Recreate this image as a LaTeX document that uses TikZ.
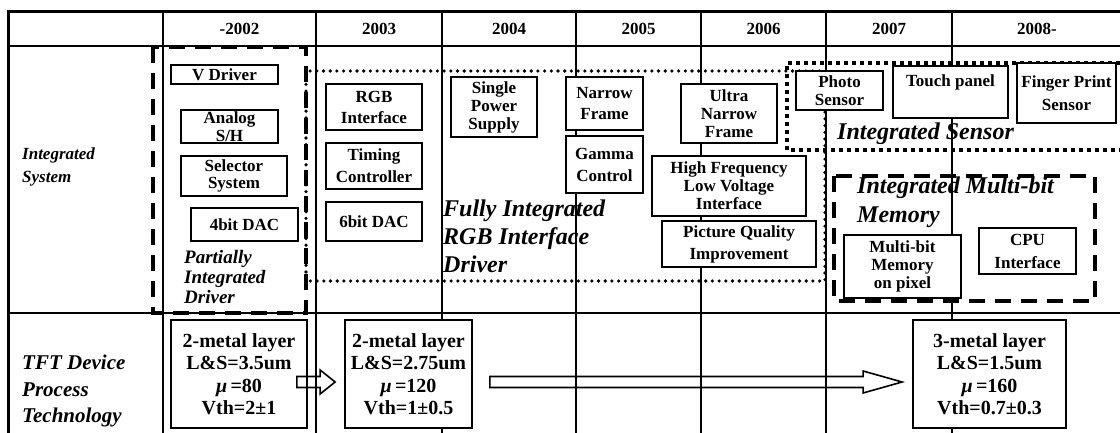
\documentclass[tikz,border=0pt]{standalone}
\usepackage{fontspec}
\setmainfont{Liberation Serif}
\usetikzlibrary{calc}

\begin{document}
\begin{tikzpicture}[x=1pt, y=-1pt,
  grid/.style={line width=1.3pt},
  head/.style={inner sep=0pt, font=\fontsize{17}{20}\selectfont\bfseries},
  item/.style={draw, line width=1.8pt, fill=white, align=center, inner sep=0pt,
    font=\fontsize{17}{#1}\selectfont\bfseries},
  item/.default=18,
  proc/.style={draw, line width=1.8pt, fill=white, align=center, inner sep=0pt,
    minimum height=108pt, font=\fontsize{20}{22.5}\selectfont\bfseries},
  tag/.style 2 args={align=left, inner sep=0pt, anchor=west,
    font=\fontsize{#1}{#2}\selectfont\bfseries\itshape},
  partbox/.style={line width=4.5pt, dash pattern=on 16pt off 10pt},
  fullbox/.style={line width=3.6pt, dash pattern=on 0pt off 6.7pt, line cap=round},
  sensbox/.style={line width=4pt, dash pattern=on 4pt off 4pt},
  blockarr/.style={line width=1.6pt}
]
\useasboundingbox (0,0) rectangle (1120,433);

% Table frame
\draw[line width=3pt] (8,433) -- (8,12) -- (1120,12);
\draw[grid] (8,46) -- (1120,46);
\draw[line width=2.2pt] (8,313) -- (1120,313);
\foreach \x in {163,316,442,576,701,826,952}
  \draw[grid] (\x,12) -- (\x,433);

% Years
\node[head] (y2002) at (239.5,29) {-2002};
\node[head] (y2003) at (379,29) {2003};
\node[head] (y2004) at (509,29) {2004};
\node[head] (y2005) at (638.5,29) {2005};
\node[head] (y2006) at (763.5,29) {2006};
\node[head] (y2007) at (889,29) {2007};
\node[head] (y2008) at (1037,29) {2008-};

% Groups
\draw[partbox] (153,47) rectangle (306,313); % partially integrated
\draw[fullbox] (306,71) rectangle (825,281); % fully integrated
\draw[sensbox] (1120,63) -- (787,63) -- (787,150) -- (1120,150); % sensor
\draw[partbox] (834,176) rectangle (1095,301); % multi-bit memory

% Integrated system blocks
\node[item, minimum width=107pt, minimum height=19pt] (vdrv) at (224.5,74.5) {V Driver};
\node[item, minimum width=97pt, minimum height=33pt] (ash) at (229.5,126.5) {Analog\\S/H};
\node[item=17, minimum width=106pt, minimum height=40pt] (sel) at (234,176) {Selector\\System};
\node[item, minimum width=107pt, minimum height=33pt] (dac4) at (244.5,224.5) {4bit DAC};

\node[item=21, minimum width=96pt, minimum height=46pt] (rgb) at (374,107) {RGB\\Interface};
\node[item=22, minimum width=96pt, minimum height=46pt] (tcon) at (374,166) {Timing\\Controller};
\node[item, minimum width=96pt, minimum height=39pt] (dac6) at (374,221.5) {6bit DAC};

\node[item, minimum width=86pt, minimum height=60pt] (sps) at (494,107) {Single\\Power\\Supply};

\node[item=21, minimum width=77pt, minimum height=53pt] (nf) at (604.5,103.5) {Narrow\\Frame};
\node[item=22, minimum width=77pt, minimum height=57pt] (gam) at (604.5,164.5) {Gamma\\Control};

\node[item, minimum width=96pt, minimum height=59pt] (unf) at (729,113.5) {Ultra\\Narrow\\Frame};
\node[item, minimum width=154pt, minimum height=60pt] (hflv) at (729,186) {High Frequency\\Low Voltage\\Interface};
\node[item=22, minimum width=154pt, minimum height=46pt] (pqi) at (739,244) {Picture Quality\\Improvement};

\node[item, minimum width=87pt, minimum height=39pt] (photo) at (839.5,90.5) {Photo\\Sensor};
\node[item, minimum width=115pt, text height=21pt, text depth=31pt, anchor=north] (touch) at (950.5,65) {Touch panel};
\node[item=23, minimum width=99pt, minimum height=60pt] (fps) at (1066.5,93) {Finger Print\\Sensor};

\node[item, minimum width=117pt, minimum height=63pt] (mbm) at (902.5,266.5) {Multi-bit\\Memory\\on pixel};
\node[item=23, minimum width=97pt, minimum height=46pt] (cpu) at (1027.5,251) {CPU\\Interface};

% Group labels
\node[tag={17}{23}] (sysl) at (22,167) {Integrated\\System};
\node[tag={19}{20}] (partl) at (184,277) {Partially\\Integrated\\Driver};
\node[tag={24}{28}] (fulll) at (443,236) {Fully Integrated\\RGB Interface\\Driver};
\node[tag={24}{28}] (sensl) at (837,134) {Integrated Sensor};
\node[tag={24}{29}] (meml) at (857,202) {Integrated Multi-bit\\Memory};

% TFT process
\node[tag={21}{26.5}] (tftl) at (22,391) {TFT Device\\Process\\Technology};
\node[proc, minimum width=136pt] (tft1) at (239,374) {2-metal layer\\L\&S=3.5um\\\textit{μ}\,=80\\Vth=2±1};
\node[proc, minimum width=127pt] (tft2) at (408.5,374) {2-metal layer\\L\&S=2.75um\\\textit{μ}\,=120\\Vth=1±0.5};
\node[proc, minimum width=153pt] (tft3) at (989.5,374) {3-metal layer\\L\&S=1.5um\\\textit{μ}\,=160\\Vth=0.7±0.3};

\draw[blockarr] let \p1=([xshift=-11pt,yshift=-8pt]tft1.east), \p2=([xshift=-9pt,yshift=-8pt]tft2.west) in
  (\x1,\y1+5.5) -- (\x2-15,\y1+5.5) -- (\x2-15,\y1+12) -- (\x2,\y1) -- (\x2-15,\y1-12) -- (\x2-15,\y1-5.5) -- (\x1,\y1-5.5) -- cycle;
\draw[blockarr] let \p1=([xshift=17pt,yshift=-8pt]tft2.east), \p2=([xshift=-10pt,yshift=-8pt]tft3.west) in
  (\x1,\y1+5.5) -- (\x2-39,\y1+5.5) -- (\x2-39,\y1+11) -- (\x2,\y1) -- (\x2-39,\y1-11) -- (\x2-39,\y1-5.5) -- (\x1,\y1-5.5) -- cycle;

\end{tikzpicture}
\end{document}
